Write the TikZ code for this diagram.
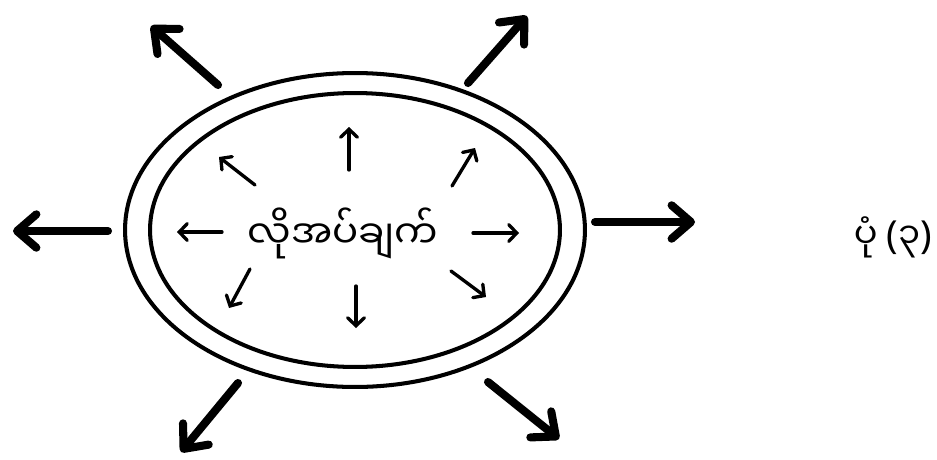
\documentclass[tikz,border=0pt]{standalone}
\usepackage{fontspec}
\newfontfamily\myanfont[Script=Myanmar]{Noto Sans Myanmar UI}
\newfontfamily\parfont{Noto Sans}
\usetikzlibrary{arrows.meta}
\usetikzlibrary{shapes.geometric}

\begin{document}
\begin{tikzpicture}[x=0.02cm,y=-0.02cm]
    \tikzset{ring/.style = {shape=ellipse,draw,line width=2.3pt,inner sep=0pt}}
    \tikzset{word/.style = {shape=rectangle,draw=none,inner sep=0pt,font=\myanfont\fontsize{22}{26}\selectfont}}
    \tikzset{bigedge/.style = {line width=4.6pt,line cap=round,-{Straight Barb[length=11pt,width=19pt,line cap=round,line join=round]}}}
    \tikzset{smalledge/.style = {line width=1.9pt,line cap=round,-{Straight Barb[length=4.5pt,width=9.5pt,line cap=round]}}}

    \useasboundingbox (0,0) rectangle (937,460);

    % vertices

    \node[ring,minimum width=9.2cm,minimum height=6.28cm] (outer) at (355,230) {};
    \node[ring,minimum width=8.2cm,minimum height=5.48cm] (inner) at (355,230) {};
    \node[word] (need) at (343,233) {လိုအပ်ချက်};
    \node[word,anchor=east,font=\myanfont\fontsize{20}{24}\selectfont] (fig) at (932,237)
        {ပုံ {\parfont\fontsize{22}{26}\selectfont(}၃{\parfont\fontsize{22}{26}\selectfont)}};

    % outer ends
    \coordinate (w1) at (108,231);  \coordinate (w2) at (13,231);
    \coordinate (e1) at (595,222);  \coordinate (e2) at (695,222);
    \coordinate (nw1) at (218,85);  \coordinate (nw2) at (151,26);
    \coordinate (ne1) at (468,83);  \coordinate (ne2) at (527,16);
    \coordinate (sw1) at (238,383); \coordinate (sw2) at (181,452);
    \coordinate (se1) at (488,382); \coordinate (se2) at (559,439);

    % inner ends
    \coordinate (l1) at (222,232);  \coordinate (l2) at (177,232);
    \coordinate (r1) at (473,233);  \coordinate (r2) at (519,233);
    \coordinate (u1) at (349,170);  \coordinate (u2) at (349,127);
    \coordinate (d1) at (356,286);  \coordinate (d2) at (356,328);
    \coordinate (ul1) at (255,185); \coordinate (ul2) at (219,157);
    \coordinate (ur1) at (452,186); \coordinate (ur2) at (475,148);
    \coordinate (ll1) at (250,269); \coordinate (ll2) at (229,308);
    \coordinate (lr1) at (451,271); \coordinate (lr2) at (486,297);

    %edges
    \draw[bigedge] (w1) to (w2);
    \draw[bigedge] (e1) to (e2);
    \draw[bigedge] (nw1) to (nw2);
    \draw[bigedge] (ne1) to (ne2);
    \draw[bigedge] (sw1) to (sw2);
    \draw[bigedge] (se1) to (se2);

    \draw[smalledge] (l1) to (l2);
    \draw[smalledge] (r1) to (r2);
    \draw[smalledge] (u1) to (u2);
    \draw[smalledge] (d1) to (d2);
    \draw[smalledge] (ul1) to (ul2);
    \draw[smalledge] (ur1) to (ur2);
    \draw[smalledge] (ll1) to (ll2);
    \draw[smalledge] (lr1) to (lr2);
\end{tikzpicture}
\end{document}
